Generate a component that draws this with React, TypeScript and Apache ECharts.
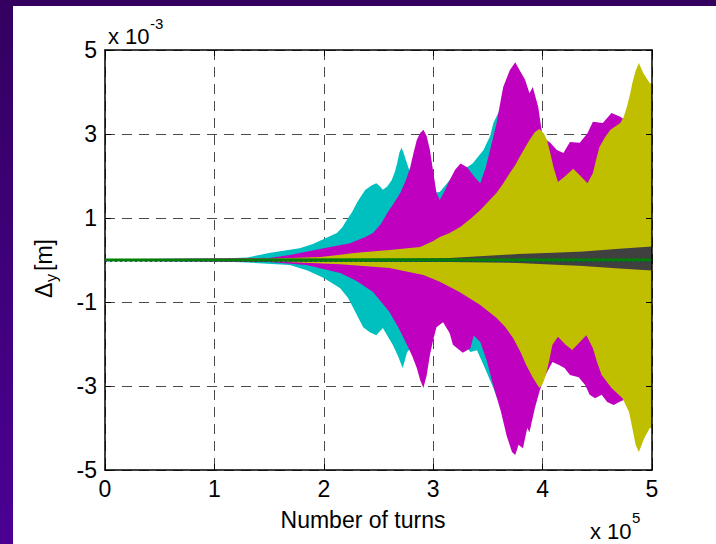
import React, { useEffect, useRef } from "react";
import * as echarts from "echarts";

// x in units of 1e5 turns, y in units of 1e-3 m
const xTicks = [0, 1, 2, 3, 4, 5];
const yTicks = [-5, -3, -1, 1, 3, 5];

const cyanUpper = [[0,0.02],[1.0,0.03],[1.3,0.06],[1.51,0.17],[1.78,0.28],[1.9,0.38],[2.0,0.5],[2.12,0.64],[2.17,0.78],[2.21,0.95],[2.26,1.15],[2.3,1.35],[2.34,1.52],[2.38,1.67],[2.44,1.78],[2.48,1.83],[2.51,1.76],[2.54,1.67],[2.58,1.75],[2.62,1.9],[2.65,2.1],[2.67,2.3],[2.69,2.55],[2.71,2.67],[2.73,2.55],[2.75,2.38],[2.79,2.07],[2.9,1.8],[3.0,1.6],[3.06,1.62],[3.15,1.9],[3.25,2.1],[3.36,2.3],[3.46,2.62],[3.52,2.95],[3.55,3.26],[3.65,3.8],[3.71,4.0]];
const cyanLower = [[0,-0.02],[1.0,-0.03],[1.3,-0.06],[1.69,-0.12],[1.85,-0.25],[2.0,-0.43],[2.15,-0.67],[2.22,-0.9],[2.27,-1.14],[2.32,-1.4],[2.36,-1.6],[2.42,-1.72],[2.48,-1.79],[2.54,-1.62],[2.58,-1.8],[2.63,-2.02],[2.68,-2.3],[2.72,-2.57],[2.74,-2.4],[2.76,-2.2],[2.8,-2.07],[2.95,-1.8],[3.03,-1.5],[3.09,-1.45],[3.15,-1.7],[3.25,-1.9],[3.34,-2.19],[3.4,-2.15],[3.46,-2.5],[3.55,-3.05],[3.58,-3.26],[3.65,-3.5],[3.7,-3.6]];
const magentaUpper = [[0,0.02],[1.5,0.05],[1.69,0.12],[2.0,0.28],[2.24,0.4],[2.38,0.55],[2.45,0.64],[2.52,0.85],[2.58,1.12],[2.64,1.35],[2.7,1.6],[2.75,1.9],[2.79,2.21],[2.82,2.55],[2.85,2.86],[2.88,3.02],[2.91,3.1],[2.94,2.95],[2.97,2.62],[3.0,2.1],[3.03,1.6],[3.06,1.43],[3.1,1.62],[3.15,1.9],[3.2,2.15],[3.25,2.3],[3.31,2.21],[3.37,2.0],[3.43,1.83],[3.48,2.2],[3.52,2.62],[3.58,3.26],[3.61,3.7],[3.64,4.12],[3.7,4.52],[3.75,4.71],[3.79,4.52],[3.84,4.29],[3.88,3.97],[3.91,4.12],[3.96,3.64],[4.0,2.93],[4.07,2.79],[4.13,2.62],[4.19,2.55],[4.25,2.81],[4.34,2.79],[4.41,3.02],[4.46,3.29],[4.55,3.26],[4.63,3.5],[4.71,3.41],[4.77,3.3]];
const magentaLower = [[0,-0.02],[1.5,-0.05],[1.84,-0.12],[2.15,-0.31],[2.3,-0.5],[2.45,-0.76],[2.6,-1.24],[2.68,-1.6],[2.76,-2.02],[2.81,-2.3],[2.85,-2.57],[2.88,-2.85],[2.91,-3.05],[2.94,-2.75],[2.97,-2.26],[3.0,-1.9],[3.03,-1.6],[3.09,-1.48],[3.15,-1.74],[3.18,-2.02],[3.27,-2.21],[3.34,-2.1],[3.37,-1.8],[3.43,-1.95],[3.49,-2.4],[3.55,-3.0],[3.62,-3.62],[3.67,-4.17],[3.72,-4.57],[3.75,-4.64],[3.78,-4.4],[3.82,-4.48],[3.86,-4.0],[3.88,-4.1],[3.93,-3.52],[3.97,-3.14],[4.0,-2.9],[4.04,-2.67],[4.09,-2.43],[4.15,-2.5],[4.2,-2.57],[4.25,-2.74],[4.33,-2.79],[4.39,-2.98],[4.43,-3.21],[4.48,-3.29],[4.54,-3.21],[4.59,-3.38],[4.65,-3.45],[4.7,-3.38],[4.77,-3.3]];
const oliveUpper = [[0,0.02],[1.5,0.03],[1.97,0.07],[2.3,0.17],[2.6,0.24],[2.88,0.31],[3.0,0.45],[3.06,0.55],[3.15,0.64],[3.25,0.79],[3.35,1.0],[3.43,1.19],[3.5,1.38],[3.58,1.6],[3.64,1.82],[3.7,2.07],[3.75,2.26],[3.79,2.45],[3.84,2.68],[3.88,2.86],[3.93,3.05],[3.97,3.12],[4.01,3.02],[4.04,2.86],[4.07,2.55],[4.1,2.21],[4.14,1.86],[4.2,1.98],[4.28,2.17],[4.34,2.02],[4.41,1.83],[4.46,2.07],[4.49,2.4],[4.52,2.69],[4.57,2.92],[4.62,3.1],[4.71,3.26],[4.74,3.4],[4.77,3.64],[4.8,3.95],[4.82,4.21],[4.85,4.5],[4.88,4.69],[4.92,4.45],[4.98,4.21],[5,4.2]];
const oliveLower = [[0,-0.02],[1.5,-0.03],[2.15,-0.1],[2.6,-0.19],[2.91,-0.36],[3.06,-0.52],[3.24,-0.76],[3.43,-1.07],[3.58,-1.38],[3.66,-1.6],[3.73,-1.86],[3.8,-2.2],[3.85,-2.5],[3.91,-2.8],[3.97,-3.05],[4.0,-2.95],[4.03,-2.74],[4.06,-2.4],[4.09,-2.02],[4.14,-1.83],[4.21,-2.02],[4.27,-2.14],[4.33,-1.98],[4.4,-1.79],[4.46,-2.1],[4.5,-2.45],[4.54,-2.74],[4.63,-3.05],[4.73,-3.29],[4.79,-3.62],[4.82,-4.0],[4.85,-4.4],[4.88,-4.57],[4.93,-4.24],[4.98,-4.0],[5,-4.0]];
const grayUpper = [[0,0.01],[3.0,0.04],[3.15,0.05],[3.5,0.1],[3.77,0.14],[4.1,0.17],[4.37,0.2],[4.7,0.27],[5,0.32]];
const grayLower = [[0,-0.01],[3.15,-0.05],[3.77,-0.07],[4.37,-0.14],[4.7,-0.2],[5,-0.25]];
const centerLine = [[0,0],[5,0]];
const blueLine = [[0,-0.03],[5,-0.03]];

const FONT = "'Liberation Sans', Arial, Helvetica, sans-serif";

function area(data: number[][], color: string, z: number) {
  return {
    type: "line",
    data,
    z,
    showSymbol: false,
    silent: true,
    lineStyle: { color, width: 0, opacity: 0 },
    itemStyle: { color },
    areaStyle: { color, opacity: 1, origin: "auto" },
    xAxisIndex: 0,
    yAxisIndex: 0,
  };
}

export default function App() {
  const ref = useRef<HTMLDivElement>(null);
  useEffect(() => {
    const chart = echarts.init(ref.current!, undefined, { renderer: "svg" });
    const lineAxis = { show: true, onZero: false, lineStyle: { color: "#000", width: 1.5 } };
    const tick = { show: true, inside: true, length: 6, lineStyle: { color: "#000", width: 1 } };
    const grid = { show: true, lineStyle: { color: "#4a4a4a", type: [10, 7], width: 1 } };
    chart.setOption({
      animation: false,
      backgroundColor: "#ffffff",
      grid: { left: 105, top: 50, width: 547, height: 420, containLabel: false },
      xAxis: [
        {
          type: "value",
          position: "bottom",
          min: 0,
          max: 5,
          interval: 1,
          axisLine: lineAxis,
          axisTick: tick,
          axisLabel: {
            color: "#000",
            fontSize: 23,
            fontFamily: FONT,
            margin: 7,
            formatter: (v: number) => (xTicks.includes(v) ? String(v) : ""),
          },
          splitLine: grid,
        },
        {
          type: "value",
          position: "top",
          z: 30,
          min: 0,
          max: 5,
          interval: 1,
          axisLine: lineAxis,
          axisTick: tick,
          axisLabel: { show: false },
          splitLine: { show: false },
        },
      ],
      yAxis: [
        {
          type: "value",
          position: "left",
          min: -5,
          max: 5,
          interval: 2,
          axisLine: lineAxis,
          axisTick: tick,
          axisLabel: {
            color: "#000",
            fontSize: 23,
            fontFamily: FONT,
            margin: 8,
            formatter: (v: number) => (yTicks.includes(v) ? String(v) : ""),
          },
          splitLine: grid,
        },
        {
          type: "value",
          position: "right",
          z: 30,
          min: -5,
          max: 5,
          interval: 2,
          axisLine: lineAxis,
          axisTick: tick,
          axisLabel: { show: false },
          splitLine: { show: false },
        },
      ],
      series: [
        area(cyanUpper, "#00bfbf", 2),
        area(cyanLower, "#00bfbf", 2),
        area(magentaUpper, "#bf00bf", 3),
        area(magentaLower, "#bf00bf", 3),
        area(oliveUpper, "#bfbf00", 4),
        area(oliveLower, "#bfbf00", 4),
        area(grayUpper, "#404040", 5),
        area(grayLower, "#404040", 5),
        {
          type: "line",
          data: blueLine,
          z: 9,
          showSymbol: false,
          silent: true,
          lineStyle: { color: "#0000ff", width: 1, type: [2, 3] },
        },
        {
          type: "line",
          data: centerLine,
          z: 10,
          showSymbol: false,
          silent: true,
          itemStyle: { color: "#008000" },
          lineStyle: { color: "#008000", width: 3 },
        },
      ],
      graphic: [
        { type: "rect", z: 100, shape: { x: 0, y: 0, width: 716, height: 6 }, style: { fill: "#330060" } },
        {
          type: "rect",
          z: 100,
          shape: { x: 0, y: 0, width: 13, height: 544 },
          style: {
            fill: new echarts.graphic.LinearGradient(0, 0, 0, 1, [
              { offset: 0, color: "#330060" },
              { offset: 1, color: "#4b0094" },
            ]),
          },
        },
        { type: "text", x: 108, y: 25, style: { text: "x 10", fontSize: 22, fontFamily: FONT, fill: "#000" } },
        { type: "text", x: 150, y: 16, style: { text: "-3", fontSize: 15, fontFamily: FONT, fill: "#000" } },
        { type: "text", x: 590, y: 520, style: { text: "x 10", fontSize: 22, fontFamily: FONT, fill: "#000" } },
        { type: "text", x: 632, y: 510, style: { text: "5", fontSize: 15, fontFamily: FONT, fill: "#000" } },
        {
          type: "text",
          x: 363,
          y: 520,
          style: { text: "Number of turns", fontSize: 23, fontFamily: FONT, fill: "#000", align: "center", verticalAlign: "middle" },
        },
        {
          type: "group",
          x: 44,
          y: 262,
          rotation: Math.PI / 2,
          children: [
            { type: "text", x: -36, y: -12, style: { text: "Δ", fontSize: 23, fontFamily: FONT, fill: "#000" } },
            { type: "text", x: -20, y: -1, style: { text: "y", fontSize: 16, fontFamily: FONT, fill: "#000" } },
            { type: "text", x: -9, y: -12, style: { text: "[m]", fontSize: 23, fontFamily: FONT, fill: "#000" } },
          ],
        },
      ],
    });
    return () => chart.dispose();
  }, []);
  return (
    <div
      ref={ref}
      style={{ position: "fixed", left: 0, top: 0, width: 716, height: 544 }}
    />
  );
}
